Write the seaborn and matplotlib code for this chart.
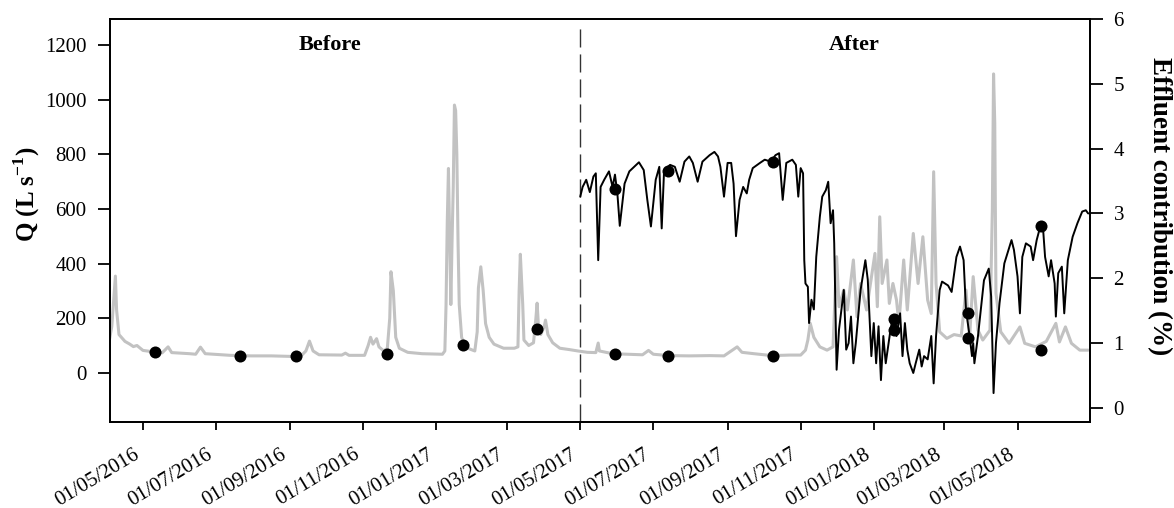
import matplotlib
matplotlib.use("Agg")
import matplotlib.pyplot as plt
import matplotlib.dates as mdates
import seaborn as sns
import pandas as pd

# ---------------- data ----------------
q_dates = ["2016-04-03", "2016-04-05", "2016-04-06", "2016-04-08", "2016-04-09", "2016-04-11",
           "2016-04-16", "2016-04-20", "2016-04-23", "2016-04-26", "2016-05-01", "2016-05-11",
           "2016-05-17", "2016-05-22", "2016-05-25", "2016-06-09", "2016-06-14", "2016-06-18",
           "2016-06-22", "2016-07-13", "2016-07-30", "2016-08-16", "2016-09-02", "2016-09-10",
           "2016-09-14", "2016-09-17", "2016-09-20", "2016-09-25", "2016-10-14", "2016-10-17",
           "2016-10-20", "2016-11-02", "2016-11-05", "2016-11-07", "2016-11-09", "2016-11-12",
           "2016-11-14", "2016-11-18", "2016-11-21", "2016-11-23", "2016-11-24", "2016-11-26",
           "2016-11-28", "2016-12-01", "2016-12-08", "2016-12-20", "2017-01-06", "2017-01-08",
           "2017-01-09", "2017-01-10", "2017-01-11", "2017-01-12", "2017-01-13", "2017-01-14",
           "2017-01-15", "2017-01-16", "2017-01-17", "2017-01-18", "2017-01-19", "2017-01-20",
           "2017-01-22", "2017-01-25", "2017-01-30", "2017-02-02", "2017-02-04", "2017-02-05",
           "2017-02-07", "2017-02-09", "2017-02-11", "2017-02-14", "2017-02-18", "2017-02-26",
           "2017-03-07", "2017-03-10", "2017-03-11", "2017-03-12", "2017-03-14", "2017-03-15",
           "2017-03-19", "2017-03-23", "2017-03-25", "2017-03-26", "2017-03-27", "2017-03-29",
           "2017-04-01", "2017-04-02", "2017-04-04", "2017-04-08", "2017-04-14", "2017-04-22",
           "2017-04-29", "2017-05-07", "2017-05-14", "2017-05-16", "2017-05-17", "2017-05-28",
           "2017-06-10", "2017-06-22", "2017-06-27", "2017-07-01", "2017-07-14", "2017-07-31",
           "2017-08-17", "2017-08-29", "2017-09-09", "2017-09-13", "2017-09-23", "2017-10-08",
           "2017-10-23", "2017-11-01", "2017-11-05", "2017-11-07", "2017-11-09", "2017-11-12",
           "2017-11-17", "2017-11-23", "2017-11-28", "2017-12-01", "2017-12-03", "2017-12-07",
           "2017-12-10", "2017-12-15", "2017-12-18", "2017-12-21", "2017-12-26", "2018-01-02",
           "2018-01-04", "2018-01-06", "2018-01-08", "2018-01-12", "2018-01-14", "2018-01-17",
           "2018-01-20", "2018-01-22", "2018-01-26", "2018-01-29", "2018-02-03", "2018-02-07",
           "2018-02-11", "2018-02-15", "2018-02-18", "2018-02-20", "2018-02-22", "2018-02-25",
           "2018-03-03", "2018-03-09", "2018-03-15", "2018-03-19", "2018-03-22", "2018-03-25",
           "2018-03-29", "2018-04-02", "2018-04-08", "2018-04-10", "2018-04-11", "2018-04-12",
           "2018-04-13", "2018-04-17", "2018-04-24", "2018-05-03", "2018-05-07", "2018-05-16",
           "2018-05-25", "2018-06-02", "2018-06-05", "2018-06-10", "2018-06-15", "2018-06-22",
           "2018-06-29"]
q_values = [120, 170, 230, 354, 230, 140,
            115, 105, 96, 100, 82, 76,
            73, 95, 74, 70, 68, 94,
            70, 64, 62, 62, 60, 62,
            80, 116, 80, 66, 65, 72,
            64, 64, 100, 130, 105, 125,
            95, 80, 90, 200, 370, 300,
            130, 90, 75, 70, 68, 80,
            250, 550, 748, 500, 250, 480,
            680, 980, 960, 800, 480, 250,
            130, 95, 85, 80, 150, 310,
            388, 300, 180, 130, 105, 90,
            90, 95, 300, 434, 250, 120,
            100, 110, 200, 255, 180, 140,
            170, 193, 140, 110, 90, 85,
            80, 75, 74, 109, 80, 70,
            68, 66, 82, 68, 63, 62,
            63, 62, 95, 75, 70, 63,
            65, 65, 83, 120, 181, 130,
            95, 83, 95, 425, 242, 303,
            230, 413, 205, 327, 230, 437,
            242, 571, 327, 413, 254, 327,
            266, 181, 413, 230, 510, 327,
            498, 266, 217, 736, 327, 150,
            126, 140, 135, 303, 130, 352,
            156, 120, 156, 600, 1094, 914,
            291, 150, 108, 168, 108, 95,
            115, 181, 113, 168, 108, 83,
            83]

ec_dates = ["2017-05-01", "2017-05-03", "2017-05-06", "2017-05-09", "2017-05-12", "2017-05-14",
            "2017-05-16", "2017-05-18", "2017-05-21", "2017-05-25", "2017-05-28", "2017-05-30",
            "2017-06-01", "2017-06-03", "2017-06-07", "2017-06-11", "2017-06-15", "2017-06-19",
            "2017-06-23", "2017-06-26", "2017-06-29", "2017-07-03", "2017-07-06", "2017-07-08",
            "2017-07-10", "2017-07-15", "2017-07-19", "2017-07-23", "2017-07-27", "2017-07-31",
            "2017-08-03", "2017-08-07", "2017-08-11", "2017-08-17", "2017-08-21", "2017-08-24",
            "2017-08-26", "2017-08-29", "2017-09-01", "2017-09-04", "2017-09-06", "2017-09-08",
            "2017-09-11", "2017-09-14", "2017-09-17", "2017-09-19", "2017-09-22", "2017-09-28",
            "2017-10-02", "2017-10-07", "2017-10-11", "2017-10-14", "2017-10-17", "2017-10-20",
            "2017-10-25", "2017-10-28", "2017-10-30", "2017-11-01", "2017-11-03", "2017-11-04",
            "2017-11-05", "2017-11-07", "2017-11-08", "2017-11-10", "2017-11-12", "2017-11-14",
            "2017-11-17", "2017-11-19", "2017-11-22", "2017-11-24", "2017-11-26", "2017-11-28",
            "2017-11-29", "2017-12-01", "2017-12-03", "2017-12-07", "2017-12-09", "2017-12-11",
            "2017-12-13", "2017-12-15", "2017-12-17", "2017-12-21", "2017-12-25", "2017-12-27",
            "2017-12-30", "2018-01-01", "2018-01-03", "2018-01-05", "2018-01-07", "2018-01-09",
            "2018-01-11", "2018-01-13", "2018-01-15", "2018-01-17", "2018-01-20", "2018-01-23",
            "2018-01-25", "2018-01-27", "2018-01-29", "2018-01-31", "2018-02-03", "2018-02-05",
            "2018-02-08", "2018-02-10", "2018-02-12", "2018-02-15", "2018-02-18", "2018-02-20",
            "2018-02-22", "2018-02-25", "2018-02-27", "2018-03-04", "2018-03-07", "2018-03-11",
            "2018-03-14", "2018-03-17", "2018-03-19", "2018-03-22", "2018-03-24", "2018-03-25",
            "2018-03-26", "2018-03-29", "2018-04-01", "2018-04-03", "2018-04-07", "2018-04-09",
            "2018-04-11", "2018-04-13", "2018-04-16", "2018-04-20", "2018-04-26", "2018-04-28",
            "2018-05-01", "2018-05-03", "2018-05-05", "2018-05-08", "2018-05-12", "2018-05-14",
            "2018-05-17", "2018-05-20", "2018-05-22", "2018-05-24", "2018-05-27", "2018-05-29",
            "2018-06-01", "2018-06-02", "2018-06-04", "2018-06-07", "2018-06-09", "2018-06-12",
            "2018-06-16", "2018-06-20", "2018-06-24", "2018-06-27", "2018-06-29"]
ec_values = [3.26, 3.41, 3.52, 3.33, 3.57, 3.62,
             2.28, 3.41, 3.52, 3.65, 3.41, 3.60,
             3.31, 2.81, 3.46, 3.65, 3.72, 3.79,
             3.67, 3.21, 2.80, 3.52, 3.72, 2.77,
             3.67, 3.75, 3.72, 3.49, 3.80, 3.88,
             3.78, 3.49, 3.80, 3.90, 3.95, 3.88,
             3.72, 3.26, 3.78, 3.78, 3.46, 2.65,
             3.21, 3.41, 3.31, 3.52, 3.70, 3.78,
             3.83, 3.80, 3.90, 3.93, 3.21, 3.78,
             3.83, 3.75, 3.26, 3.70, 3.62, 2.28,
             1.92, 1.87, 1.31, 1.67, 1.52, 2.33,
             2.95, 3.26, 3.36, 3.49, 2.85, 3.05,
             2.54, 0.59, 1.21, 1.82, 0.90, 1.00,
             1.41, 0.69, 1.00, 1.82, 2.28, 1.98,
             0.80, 1.31, 0.69, 1.26, 0.43, 1.11,
             0.69, 0.95, 1.21, 1.41, 1.11, 1.46,
             0.80, 1.31, 0.90, 0.69, 0.54, 0.69,
             0.90, 0.64, 0.80, 0.75, 1.11, 0.38,
             1.11, 1.82, 1.95, 1.89, 1.79, 2.33,
             2.49, 2.28, 1.51, 1.11, 0.80, 1.00,
             0.69, 1.11, 1.62, 1.97, 2.15, 1.72,
             0.23, 1.00, 1.62, 2.23, 2.59, 2.44,
             2.03, 1.46, 2.33, 2.54, 2.49, 2.28,
             2.59, 2.80, 2.85, 2.33, 2.03, 2.28,
             1.92, 1.41, 2.08, 2.18, 1.46, 2.28,
             2.64, 2.85, 3.03, 3.05, 3.00]

q_sample_dates = ["2016-05-11", "2016-07-21", "2016-09-06", "2016-11-21", "2017-01-23", "2017-03-26",
                  "2017-05-30", "2017-07-13", "2017-10-09", "2018-01-18", "2018-03-21", "2018-05-21"]
q_sample_values = [76, 62, 60, 70, 100, 160, 68, 62, 62, 156, 129, 85]

ec_sample_dates = ["2017-05-30", "2017-07-13", "2017-10-09", "2018-01-18", "2018-03-21", "2018-05-21"]
ec_sample_values = [3.38, 3.66, 3.79, 1.38, 1.47, 2.81]

period_labels = ["Before", "After"]
period_change = "2017-05-01"

# ---------------- frames ----------------
q_df = pd.DataFrame({"date": pd.to_datetime(q_dates), "Q": q_values})
ec_df = pd.DataFrame({"date": pd.to_datetime(ec_dates), "EC": ec_values})
qs_df = pd.DataFrame({"date": pd.to_datetime(q_sample_dates), "Q": q_sample_values})
ecs_df = pd.DataFrame({"date": pd.to_datetime(ec_sample_dates), "EC": ec_sample_values})

# ---------------- style ----------------
sns.set_style("ticks")
plt.rcParams["font.family"] = ["Liberation Serif", "DejaVu Serif"]
plt.rcParams["mathtext.fontset"] = "custom"
plt.rcParams["mathtext.rm"] = "Liberation Serif"
plt.rcParams["mathtext.bf"] = "Liberation Serif:bold"
for key in ("text.color", "axes.labelcolor", "xtick.color", "ytick.color", "axes.edgecolor"):
    plt.rcParams[key] = "black"

fig = plt.figure(figsize=(11.74, 5.08), dpi=100)
ax = fig.add_axes([110 / 1174, 86 / 508, 980 / 1174, 403 / 508])

sns.lineplot(data=q_df, x="date", y="Q", ax=ax, color="#c2c2c2", linewidth=2.2,
             estimator=None, sort=True)
sns.scatterplot(data=qs_df, x="date", y="Q", ax=ax, color="black", s=75,
                edgecolor="black", linewidth=0, zorder=5)
ax.axvline(pd.Timestamp(period_change), ymax=0.993, color="#333333", linewidth=1.0,
           dashes=(13, 5), zorder=1)

ax2 = ax.twinx()
sns.lineplot(data=ec_df, x="date", y="EC", ax=ax2, color="black", linewidth=1.4,
             estimator=None, sort=True)
sns.scatterplot(data=ecs_df, x="date", y="EC", ax=ax2, color="black", s=75,
                edgecolor="black", linewidth=0, zorder=5)

ax.set_xlim(pd.Timestamp("2016-04-03 12:00"), pd.Timestamp("2018-06-30 12:00"))
ax.set_ylim(-180, 1295)
ax.set_yticks([0, 200, 400, 600, 800, 1000, 1200])
ax2.set_ylim(-0.216, 6.0)
ax2.set_yticks([0, 1, 2, 3, 4, 5, 6])

ax.xaxis.set_major_locator(mdates.MonthLocator(bymonth=[1, 3, 5, 7, 9, 11]))
ax.xaxis.set_major_formatter(mdates.DateFormatter("%d/%m/%Y"))

for a in (ax, ax2):
    for sp in a.spines.values():
        sp.set_linewidth(1.3)
        sp.set_color("black")
    a.tick_params(axis="y", direction="out", length=9, width=1.3,
                  labelsize=15, colors="black", pad=8)
ax.tick_params(axis="x", direction="out", length=5.5, width=1.3,
               labelsize=15, colors="black", pad=11)

for lbl in ax.get_xticklabels():
    lbl.set_rotation(31)
    lbl.set_ha("right")
    lbl.set_rotation_mode("default")

ax.set_xlabel("")
ax.set_ylabel(r"Q (L s$^{\mathbf{-1}}$)", fontsize=18, fontweight="bold", va="center")
ax.yaxis.set_label_coords(-0.085, 0.566)
ax2.set_ylabel("Effluent contribution (%)", fontsize=19.5, fontweight="bold",
               rotation=270, va="center")
ax2.yaxis.set_label_coords(1.071, 0.536)

ax.text(pd.Timestamp("2016-10-04"), 1200, period_labels[0], ha="center", va="center",
        fontsize=16, fontweight="bold")
ax.text(pd.Timestamp("2017-12-16"), 1200, period_labels[1], ha="center", va="center",
        fontsize=16, fontweight="bold")

fig.savefig("out.png", dpi=100)
